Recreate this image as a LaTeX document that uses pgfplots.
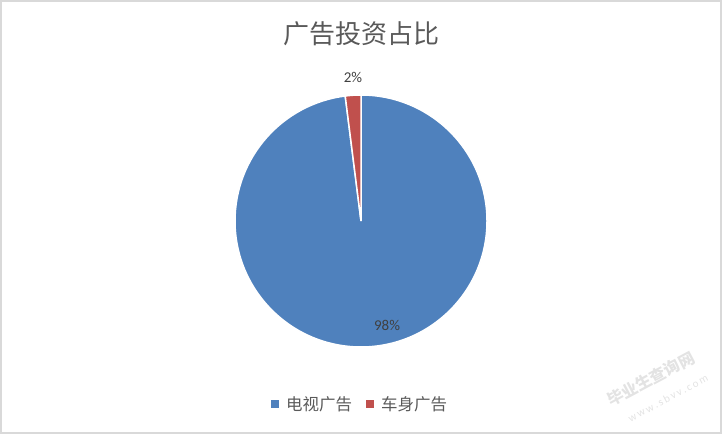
\documentclass[border=0pt]{standalone}
\usepackage{pgfplots}
\pgfplotsset{compat=1.18}
\usepackage{pgfplotstable}
\usepackage{fontspec}
\setmainfont{Carlito}
\newfontfamily\cjk{Noto Sans CJK SC}
\definecolor{tvblue}{HTML}{4F81BD}
\definecolor{carred}{HTML}{C0504D}
\definecolor{txt}{HTML}{404040}
\definecolor{ttl}{HTML}{595959}

% share of advertising investment (percent)
\pgfplotstableread{
name value
tv   98
car  2
}\piedata

\begin{document}
\begin{tikzpicture}
\pgfplotstablegetelem{0}{value}\of\piedata \let\vtv\pgfplotsretval
\pgfplotstablegetelem{1}{value}\of\piedata \let\vcar\pgfplotsretval
\pgfmathsetmacro{\atv}{90-\vtv*3.6}
\pgfmathsetmacro{\acar}{\atv-\vcar*3.6}
\begin{axis}[
    x=1bp, y=1bp,
    xmin=0, xmax=722, ymin=0, ymax=434,
    hide axis,
    scale only axis,
    clip=false,
]
% frame
\draw[draw=black!15, line width=2bp] (axis cs:1,1) rectangle (axis cs:721,433);
% title
\node[font=\cjk\fontsize{26bp}{30bp}\selectfont, text=ttl] at (axis cs:361,400) {广告投资占比};
% slices
\fill[tvblue, draw=white, line width=1.5bp] (axis cs:361,213) -- ++(90:126bp) arc[start angle=90, end angle=\atv, radius=126bp] -- cycle;
\fill[carred, draw=white, line width=1.5bp] (axis cs:361,213) -- ++(\atv:126bp) arc[start angle=\atv, end angle=\acar, radius=126bp] -- cycle;
% data labels
\node[font=\fontsize{15bp}{18bp}\selectfont, text=txt] at (axis cs:353,357) {\pgfmathprintnumber[assume math mode=true]{\vcar}\%};
\node[font=\fontsize{15bp}{18bp}\selectfont, text=txt] at (axis cs:387,109) {\pgfmathprintnumber[assume math mode=true]{\vtv}\%};
% legend
\fill[tvblue] (axis cs:271,26) rectangle (axis cs:279,34);
\node[anchor=west, font=\cjk\fontsize{16.5bp}{20bp}\selectfont, text=ttl, inner sep=0pt] at (axis cs:286,30) {电视广告};
\fill[carred] (axis cs:366,26) rectangle (axis cs:374,34);
\node[anchor=west, font=\cjk\fontsize{16.5bp}{20bp}\selectfont, text=ttl, inner sep=0pt] at (axis cs:381,30) {车身广告};
% watermark
\node[rotate=28, inner sep=0pt, font=\cjk\bfseries\fontsize{16bp}{18bp}\selectfont, text=black!11] at (axis cs:651,55) {毕业生查询网};
\node[rotate=28, inner sep=0pt, font=\fontsize{11bp}{12bp}\selectfont, text=black!11] at (axis cs:668,36) {w\,w\,w\,.\,s\,b\,v\,v\,.\,c\,o\,m};
\end{axis}
\end{tikzpicture}
\end{document}
